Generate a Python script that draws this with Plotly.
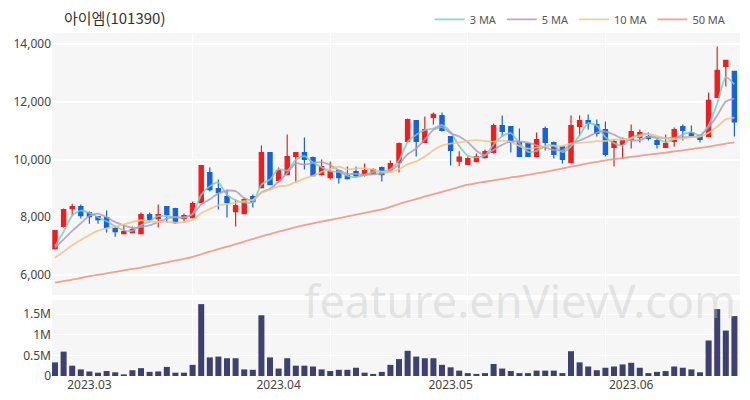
import plotly.graph_objects as go
from plotly.subplots import make_subplots
import pandas as pd

title_text = "아이엠(101390)"

opens = [6915, 7680, 8300, 8370, 8163, 8020, 7990, 7610, 7435, 7470,
         7435, 8094, 7955, 8370, 8302, 7955, 7990, 8510, 9550, 8995,
         8718, 8198, 8128, 8718, 9030, 10243, 9272, 9480, 10104, 10243,
         10069, 9480, 9376, 9619, 9445, 9584, 9480, 9515, 9723, 9653,
         9896, 10624, 11352, 10589, 11456, 11525, 10797, 9941, 9827, 9930,
         10069, 10243, 11178, 11144, 10589, 10555, 10104, 11075, 10589, 10451,
         9896, 11144, 11352, 11213, 11040, 10416, 10520, 10693, 10762, 10797,
         10659, 10416, 10624, 11144, 10936, 10832, 10797, 12149, 13223, 13050]
highs = [7540, 8300, 8470, 8440, 8200, 8030, 8232, 7680, 7747, 7680,
         8163, 8163, 8440, 8370, 8330, 8130, 8545, 9792, 9723, 9307,
         8960, 8614, 8683, 8787, 10485, 10243, 9723, 10866, 10243, 10762,
         10104, 10000, 9930, 9619, 9757, 9757, 9861, 9700, 9757, 9965,
         10589, 11421, 11352, 11490, 11629, 11629, 10797, 10288, 10104, 10208,
         10347, 11248, 11525, 11144, 11075, 10555, 10936, 11144, 10624, 10451,
         11525, 11525, 11560, 11386, 11317, 10693, 10762, 11213, 11040, 10936,
         10728, 10866, 11109, 11213, 11178, 10866, 12322, 13917, 13431, 13050]
lows = [6880, 7650, 8060, 7955, 7780, 7780, 7470, 7330, 7435, 7470,
        7435, 7816, 7643, 7816, 7780, 7850, 7955, 8510, 8890, 8267,
        7990, 7678, 8128, 8336, 8995, 9134, 9203, 9480, 9203, 9653,
        9410, 9445, 9307, 9168, 9307, 9376, 9410, 9480, 9237, 9584,
        9550, 10624, 10104, 10589, 11213, 10970, 9792, 9768, 9827, 9930,
        10035, 10208, 10797, 10243, 10104, 10104, 10069, 10312, 10035, 9861,
        9896, 10832, 11040, 10797, 10104, 9757, 10035, 10381, 10589, 10659,
        10381, 10416, 10451, 10659, 10762, 10589, 10797, 12149, 12530, 10797]
closes = [7540, 8270, 8370, 8060, 8024, 7920, 7643, 7505, 7505, 7574,
          8094, 7920, 8094, 8094, 7816, 8060, 8475, 9792, 8960, 8856,
          8510, 8406, 8614, 8544, 10243, 9134, 9619, 10104, 10243, 10000,
          9445, 9757, 9584, 9376, 9341, 9445, 9619, 9653, 9480, 9861,
          10555, 11386, 10624, 11040, 11560, 11005, 10312, 10080, 10035, 10104,
          10277, 11178, 10970, 10589, 10104, 10104, 10693, 10589, 10173, 10000,
          11178, 11352, 11248, 10901, 10173, 10624, 10659, 10970, 10936, 10728,
          10520, 10555, 11040, 11005, 10797, 10693, 12045, 13085, 13431, 11300]
prior_closes = [6150, 6200, 6250, 6300, 6350, 6850, 6900, 6760, 6700]
volumes = [0.33, 0.59, 0.25, 0.16, 0.11, 0.08, 0.12, 0.09, 0.04, 0.14,
           0.19, 0.10, 0.11, 0.22, 0.08, 0.08, 0.27, 1.74, 0.45, 0.47,
           0.43, 0.43, 0.16, 0.15, 1.47, 0.45, 0.18, 0.43, 0.25, 0.25,
           0.23, 0.16, 0.12, 0.15, 0.15, 0.20, 0.08, 0.05, 0.10, 0.27,
           0.41, 0.61, 0.47, 0.43, 0.43, 0.27, 0.21, 0.13, 0.07, 0.05,
           0.07, 0.29, 0.18, 0.12, 0.07, 0.07, 0.13, 0.13, 0.13, 0.07,
           0.60, 0.33, 0.23, 0.14, 0.20, 0.23, 0.28, 0.32, 0.20, 0.07,
           0.10, 0.12, 0.23, 0.20, 0.16, 0.09, 0.86, 1.62, 1.10, 1.45]
ma50 = [5740, 5790, 5840, 5900, 5960, 6010, 6060, 6110, 6160, 6210,
        6260, 6320, 6380, 6440, 6500, 6560, 6630, 6720, 6810, 6900,
        6980, 7070, 7160, 7250, 7340, 7420, 7500, 7580, 7660, 7730,
        7790, 7850, 7910, 7970, 8030, 8090, 8150, 8210, 8270, 8360,
        8460, 8550, 8630, 8720, 8800, 8880, 8960, 9050, 9130, 9180,
        9230, 9280, 9330, 9380, 9420, 9470, 9520, 9570, 9630, 9690,
        9750, 9810, 9870, 9920, 9970, 10010, 10050, 10090, 10130, 10170,
        10200, 10240, 10280, 10320, 10360, 10400, 10450, 10500, 10550, 10590]
month_pos = [4, 26, 46, 67]
month_labels = ["2023.03", "2023.04", "2023.05", "2023.06"]
price_ticks = [6000, 8000, 10000, 12000, 14000]
vol_ticks = [0, 0.5, 1.0, 1.5]
vol_labels = ["0", "0.5M", "1M", "1.5M"]

x = list(range(len(closes)))
allc = pd.Series(prior_closes + closes)
n0 = len(prior_closes)
ma3 = allc.rolling(3, min_periods=1).mean().tolist()[n0:]
ma5 = allc.rolling(5, min_periods=1).mean().tolist()[n0:]
ma10 = allc.rolling(10, min_periods=1).mean().tolist()[n0:]
vol_abs = [v * 1e6 for v in volumes]

RED = "#f21c1c"
BLUE = "#1462de"
FONT = "Noto Sans, Noto Sans CJK KR, sans-serif"

fig = make_subplots(rows=2, cols=1, shared_xaxes=True)

fig.add_trace(go.Candlestick(
    x=x, open=opens, high=highs, low=lows, close=closes,
    increasing=dict(line=dict(color=RED, width=1.2), fillcolor=RED),
    decreasing=dict(line=dict(color=BLUE, width=1.2), fillcolor=BLUE),
    whiskerwidth=0, showlegend=False, name="price"), row=1, col=1)

ma_specs = [("3 MA", ma3, "rgba(120,205,195,0.85)"),
            ("5 MA", ma5, "rgba(175,155,195,0.85)"),
            ("10 MA", ma10, "rgba(242,195,135,0.85)"),
            ("50 MA", ma50, "rgba(242,145,125,0.85)")]
for name, vals, col in ma_specs:
    fig.add_trace(go.Scatter(x=x, y=vals, mode="lines", name=name,
                             line=dict(color=col, width=1.8, shape="spline", smoothing=0.6)),
                  row=1, col=1)

fig.add_trace(go.Bar(x=x, y=vol_abs, marker=dict(color="#3e4070", line=dict(width=0)),
                     width=0.7, showlegend=False, name="volume"), row=2, col=1)

BG = "#f6f6f6"
fig.update_layout(
    width=750, height=400,
    margin=dict(l=52, r=10, t=33, b=24, autoexpand=False),
    paper_bgcolor="white", plot_bgcolor=BG,
    font=dict(family=FONT, size=12, color="#444"),
    xaxis=dict(range=[-0.35, 79.65], showticklabels=False, showgrid=False, automargin=False,
               rangeslider=dict(visible=False), zeroline=False,
               minor=dict(tickvals=[16, 32, 48, 64], showgrid=True, gridcolor="white", gridwidth=1)),
    xaxis2=dict(range=[-0.35, 79.65], tickmode="array", tickvals=month_pos, ticktext=month_labels,
                showgrid=False, zeroline=False, ticks="", automargin=False,
                tickfont=dict(size=12, color="#444"),
                minor=dict(tickvals=[16, 32, 48, 64], showgrid=True, gridcolor="white", gridwidth=1)),
    yaxis=dict(domain=[0.236, 1.0], range=[5307, 14381], tickmode="array", tickvals=price_ticks,
               tickformat=",", showgrid=True, gridcolor="white", gridwidth=1.5, zeroline=False,
               automargin=False, tickfont=dict(size=12, color="#444")),
    yaxis2=dict(domain=[0.0, 0.2216], range=[0, 1.84e6], tickmode="array",
                tickvals=[v * 1e6 for v in vol_ticks], ticktext=vol_labels,
                showgrid=True, gridcolor="white", gridwidth=1, zeroline=False,
                automargin=False, tickfont=dict(size=12, color="#444")),
    legend=dict(orientation="h", x=0.988, xanchor="right", y=1.04, yanchor="middle",
                font=dict(size=11, color="#555"), bgcolor="rgba(0,0,0,0)"),
    showlegend=True,
)

fig.add_annotation(text=title_text, xref="paper", yref="paper", x=0.0145, y=1.045,
                   xanchor="left", yanchor="middle", showarrow=False,
                   font=dict(size=15, color="#333", family="Noto Sans CJK KR, sans-serif"))
fig.add_annotation(text="feature.enVievV.com", xref="paper", yref="paper", x=0.68, y=0.22,
                   xanchor="center", yanchor="middle", showarrow=False,
                   font=dict(size=45, color="rgba(195,195,195,0.4)", family=FONT))

fig.write_html("out.html", config={"displayModeBar": False},
               post_script="document.body.style.margin='0';document.body.style.overflow='hidden';")
